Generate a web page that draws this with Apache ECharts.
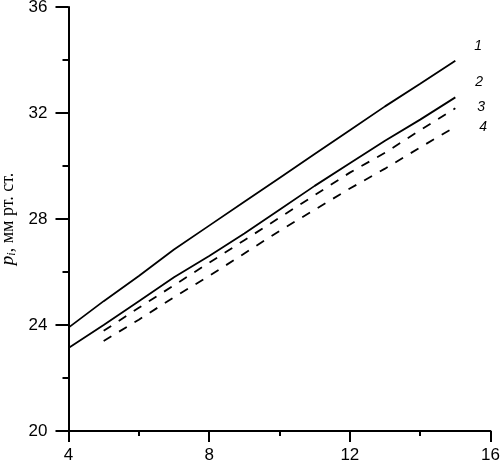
<!DOCTYPE html>
<html><head><meta charset="utf-8">
<script src="https://cdn.jsdelivr.net/npm/echarts@6/dist/echarts.min.js"></script>
<style>html,body{margin:0;padding:0;background:#fff}#c{width:501px;height:469px}</style>
</head><body><div id="c"></div>
<script>
const xFull = [4, 5, 6, 7, 8, 9, 10, 11, 12, 13, 14, 15];
const xShort = [5, 6, 7, 8, 9, 10, 11, 12, 13, 14, 15];
const line1 = [23.9, 24.9, 25.85, 26.85, 27.75, 28.65, 29.55, 30.45, 31.35, 32.25, 33.1, 33.97];
const line2 = [23.13, 24.0, 24.9, 25.8, 26.6, 27.45, 28.35, 29.25, 30.1, 30.95, 31.75, 32.59];
const line3 = [23.78, 24.65, 25.5, 26.35, 27.2, 28.05, 28.9, 29.75, 30.5, 31.35, 32.18];
const line4 = [23.4, 24.2, 25.05, 25.85, 26.7, 27.55, 28.35, 29.15, 29.9, 30.7, 31.48];
const seriesNames = ['1', '2', '3', '4'];
const xTicks = [4, 8, 12, 16];
const yTicks = [20, 24, 28, 32, 36];

const pairs = (xs, ys) => xs.map((x, i) => [x, ys[i]]);
const chart = echarts.init(document.getElementById('c'));
const mk = (name, xs, ys, dashed, off) => ({
  name, type: 'line', data: pairs(xs, ys), symbol: 'none', silent: true,
  lineStyle: {color: '#000', width: 1.8, type: dashed ? [9, 9] : 'solid'},
  endLabel: {show: true, formatter: name, offset: off, color: '#000',
    fontFamily: 'Liberation Sans, Arial', fontStyle: 'italic', fontSize: 14}
});
chart.setOption({
  animation: false,
  grid: {left: 68.5, right: 10.5, top: 7, bottom: 38, containLabel: false, outerBoundsMode: 'none'},
  xAxis: {
    type: 'value', min: 4, max: 16, interval: 4,
    axisLine: {lineStyle: {color: '#000', width: 2}},
    axisTick: {show: true, length: 11, inside: false, lineStyle: {color: '#000', width: 2}},
    minorTick: {show: true, splitNumber: 2, length: 5, lineStyle: {color: '#000', width: 2}},
    splitLine: {show: false},
    axisLabel: {color: '#000', fontSize: 17, fontFamily: 'Liberation Sans, Arial', margin: 16,
      formatter: v => xTicks.includes(v) ? String(v) : ''}
  },
  yAxis: {
    type: 'value', min: 20, max: 36, interval: 4,
    name: '{p|p}{i|i}{t|, мм рт. ст.}',
    nameLocation: 'middle', nameGap: 50, nameRotate: 90,
    nameTextStyle: {rich: {
      p: {fontFamily: 'Liberation Serif, Times New Roman', fontStyle: 'italic', fontSize: 19, color: '#000'},
      i: {fontFamily: 'Liberation Serif, Times New Roman', fontStyle: 'italic', fontSize: 12, color: '#000', verticalAlign: 'bottom', padding: [7, 0, 0, 0]},
      t: {fontFamily: 'Liberation Serif, Times New Roman', fontSize: 18, color: '#000'}
    }},
    axisLine: {show: true, lineStyle: {color: '#000', width: 2}},
    axisTick: {show: true, length: 13, inside: false, lineStyle: {color: '#000', width: 2}},
    minorTick: {show: true, splitNumber: 2, length: 6, lineStyle: {color: '#000', width: 2}},
    splitLine: {show: false},
    axisLabel: {color: '#000', fontSize: 17, fontFamily: 'Liberation Sans, Arial', margin: 21,
      formatter: v => yTicks.includes(v) ? String(v) : ''}
  },
  series: [
    mk(seriesNames[0], xFull, line1, false, [11, -15]),
    mk(seriesNames[1], xFull, line2, false, [12, -15]),
    mk(seriesNames[2], xShort, line3, true, [14, -1]),
    mk(seriesNames[3], xShort, line4, true, [16, 0])
  ]
});
</script></body></html>
